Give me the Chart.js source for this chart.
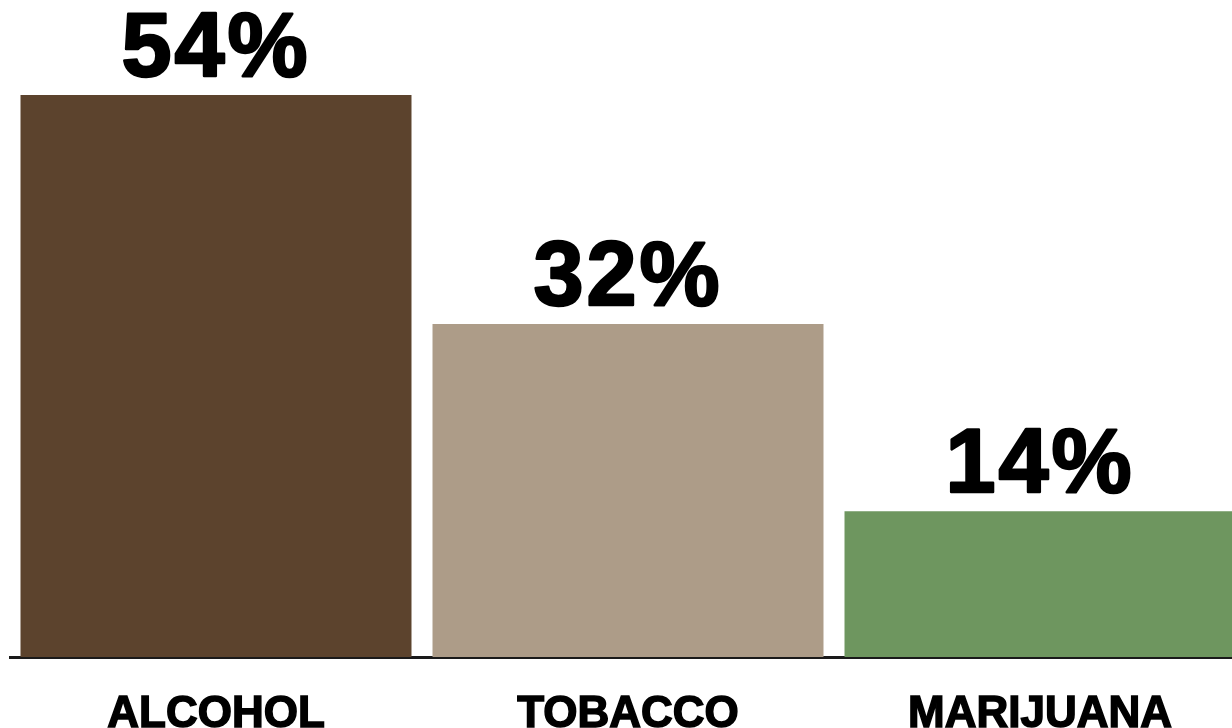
<!DOCTYPE html>
<html>
<head>
<meta charset="utf-8">
<script src="https://cdn.jsdelivr.net/npm/chart.js@4/dist/chart.umd.min.js"></script>
<style>
  html, body { margin: 0; padding: 0; background: #fff; }
  #wrap { width: 1232px; height: 728px; overflow: hidden; position: relative; }
  #box { position: absolute; left: 0; top: 0; width: 1246px; height: 760px; }
</style>
</head>
<body>
<div id="wrap"><div id="box"><canvas id="myChart"></canvas></div></div>
<script>
const categories = ["ALCOHOL", "TOBACCO", "MARIJUANA"];
const values = [54, 32, 14];
const barColors = ["#5c432d", "#ad9c88", "#6e965f"];

// percent labels above each bar
const valueLabels = {
  id: "valueLabels",
  afterDatasetsDraw(chart) {
    const ctx = chart.ctx;
    const meta = chart.getDatasetMeta(0);
    ctx.save();
    ctx.fillStyle = "#000";
    ctx.strokeStyle = "#000";
    ctx.lineWidth = 2.5;
    ctx.lineJoin = "round";
    ctx.font = "bold 90px 'Liberation Sans', Arial, sans-serif";
    ctx.letterSpacing = "3px";
    ctx.textAlign = "center";
    ctx.textBaseline = "alphabetic";
    meta.data.forEach((bar, i) => {
      const y = bar.y - 19;
      ctx.fillText(values[i] + "%", bar.x, y);
      ctx.strokeText(values[i] + "%", bar.x, y);
    });
    ctx.restore();
  }
};

new Chart("myChart", {
  type: "bar",
  data: {
    labels: categories,
    datasets: [
      {
        data: values,
        backgroundColor: barColors,
        barPercentage: 0.949,
        categoryPercentage: 1,
      },
    ],
  },
  options: {
    responsive: true,
    maintainAspectRatio: false,
    animation: false,
    layout: { padding: { top: 95, left: 10, right: 0, bottom: 0 } },
    plugins: {
      legend: { display: false },
      tooltip: { enabled: false },
    },
    scales: {
      x: {
        grid: { display: false, drawTicks: false },
        border: { display: true, color: "#1a1a1a", width: 3 },
        ticks: {
          color: "#000",
          padding: 31,
          textStrokeColor: "#000",
          textStrokeWidth: 1.5,
          font: { family: "'Liberation Sans', Arial, sans-serif", size: 44, weight: "bold" },
        },
        afterFit(scale) {
          scale.height = 103;
        },
      },
      y: {
        display: false,
        min: 0,
        max: 54,
      },
    },
  },
  plugins: [valueLabels],
});
</script>
</body>
</html>
